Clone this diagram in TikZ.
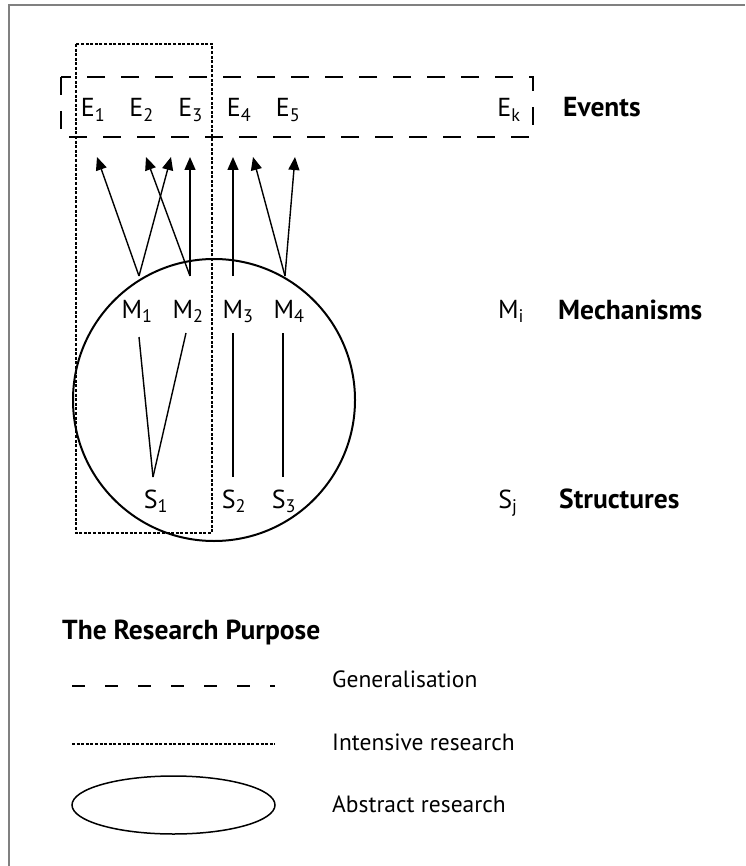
\documentclass[tikz,border=0pt]{standalone}
\usepackage{fontspec}
\setmainfont{PT Sans}
\usetikzlibrary{arrows.meta, shapes.geometric}
\tikzstyle{arrow}   = [line width=1.4pt, -{Triangle[length=13pt,width=11pt]}]
\tikzstyle{edge}    = [line width=1.4pt]
\tikzstyle{sym}     = [inner sep=0pt, anchor=base, font=\fontsize{26}{30}\selectfont]
\tikzstyle{heading} = [inner sep=0pt, anchor=base west, font=\fontsize{27.5}{32}\selectfont\bfseries]
\tikzstyle{legtext} = [inner sep=0pt, anchor=base west, font=\fontsize{23.5}{30}\selectfont]
\tikzstyle{genbox}  = [line width=2pt, dash pattern=on 18pt off 16pt]
\tikzstyle{gendash} = [line width=2pt, dash pattern=on 13pt off 20pt]
\tikzstyle{intbox}  = [line width=2pt, dash pattern=on 3pt off 1.6pt]
\tikzstyle{absline} = [line width=2pt]
\tikzstyle{frame}   = [line width=1.5pt, gray]
\newcommand{\idx}[1]{\textsubscript{#1}}
\begin{document}
\begin{tikzpicture}[x=1pt,y=-1pt]
\useasboundingbox (0,0) rectangle (745,866);
\draw[frame] (9,866) -- (9,5) -- (745,5);

% research purpose boxes
\draw[intbox] (76,44) rectangle (212,533);
\draw[genbox] (61,77) rectangle (533,137);
\node[circle, draw, absline, minimum size=282pt, inner sep=0pt] (abstract) at (214,400) {};

% events
\node[sym] (e1) at (93,117) {E\idx{1}};
\node[sym] (e2) at (141.5,117) {E\idx{2}};
\node[sym] (e3) at (190.5,117) {E\idx{3}};
\node[sym] (e4) at (239,117) {E\idx{4}};
\node[sym] (e5) at (288,117) {E\idx{5}};
\node[sym] (ek) at (509,117) {E\idx{k}};
\node[heading] (events) at (563,117) {Events};

% mechanisms
\node[sym] (m1) at (137,318) {M\idx{1}};
\node[sym] (m2) at (188,318) {M\idx{2}};
\node[sym] (m3) at (238,318) {M\idx{3}};
\node[sym] (m4) at (289,318) {M\idx{4}};
\node[sym] (mi) at (511,318) {M\idx{i}};
\node[heading] (mech) at (558,319) {Mechanisms};

% structures
\node[sym] (s1) at (156,508) {S\idx{1}};
\node[sym] (s2) at (234,508) {S\idx{2}};
\node[sym] (s3) at (284,508) {S\idx{3}};
\node[sym] (sj) at (508,508) {S\idx{j}};
\node[heading] (struct) at (559,508) {Structures};

% connector ends
\coordinate (m1t) at (139,276);
\coordinate (m2t) at (190,276);
\coordinate (m3t) at (233,276);
\coordinate (m4t) at (285,276);
\coordinate (e1b) at (97,157);
\coordinate (e2b) at (146,157);
\coordinate (e2c) at (171,157);
\coordinate (e3b) at (190,157);
\coordinate (e4b) at (233,157);
\coordinate (e4c) at (253,157);
\coordinate (e5b) at (295,157);
\coordinate (m1b) at (139,337);
\coordinate (m2b) at (186,333);
\coordinate (m3b) at (233,333);
\coordinate (m4b) at (283,333);
\coordinate (s1t) at (153,477);
\coordinate (s2t) at (233,477);
\coordinate (s3t) at (283,477);

\draw[arrow] (m1t) -- (e1b);
\draw[arrow] (m1t) -- (e2c);
\draw[arrow] (m2t) -- (e2b);
\draw[arrow] (m2t) -- (e3b);
\draw[arrow] (m3t) -- (e4b);
\draw[arrow] (m4t) -- (e4c);
\draw[arrow] (m4t) -- (e5b);

\draw[edge] (m1b) -- (s1t);
\draw[edge] (m2b) -- (s1t);
\draw[edge] (m3b) -- (s2t);
\draw[edge] (m4b) -- (s3t);

% legend
\node[heading] (purpose) at (62,639) {The Research Purpose};
\coordinate (ga) at (72,686);
\coordinate (gb) at (275,686);
\coordinate (ia) at (72,744);
\coordinate (ib) at (275,744);
\draw[gendash] (ga) -- (gb);
\draw[intbox] (ia) -- (ib);
\node[ellipse, draw, line width=1.5pt, minimum width=203pt, minimum height=58pt, inner sep=0pt] (absleg) at (173.5,805) {};
\node[legtext] (gen) at (332,687) {Generalisation};
\node[legtext] (int) at (332,750) {Intensive research};
\node[legtext] (abs) at (332,812) {Abstract research};
\end{tikzpicture}
\end{document}
